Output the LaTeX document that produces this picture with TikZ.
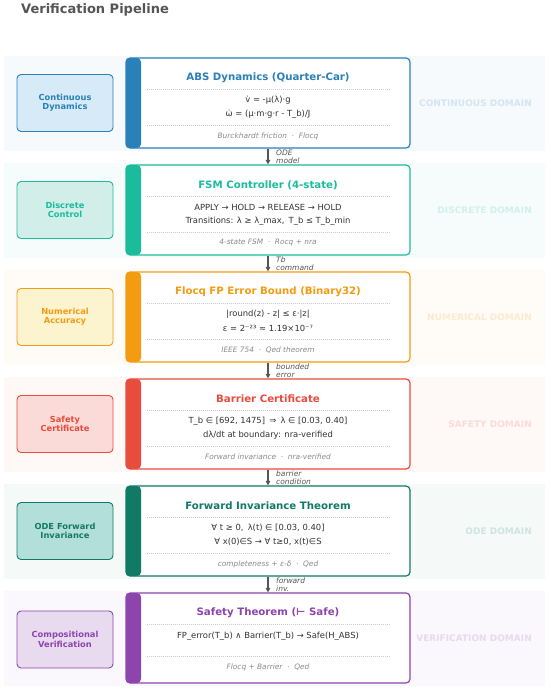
\documentclass[tikz,border=0pt]{standalone}
\usepackage{fontspec}
\setmainfont{DejaVu Sans}
\usetikzlibrary{arrows.meta,calc}
\definecolor{cA}{HTML}{2A80B9}\definecolor{fcA}{HTML}{D6EAF8}
\definecolor{cB}{HTML}{1ABC9C}\definecolor{fcB}{HTML}{D1EEE8}
\definecolor{cC}{HTML}{F39C12}\definecolor{fcC}{HTML}{FCF3CF}
\definecolor{cD}{HTML}{E74C3C}\definecolor{fcD}{HTML}{FADBD8}
\definecolor{cE}{HTML}{117A65}\definecolor{fcE}{HTML}{B3DFDA}
\definecolor{cF}{HTML}{8E44AD}\definecolor{fcF}{HTML}{E8DAEF}
\definecolor{txt}{HTML}{333333}
\definecolor{foot}{HTML}{8A8A8A}
\definecolor{ttl}{HTML}{555555}
\definecolor{sepc}{HTML}{CCCCCC}
\tikzset{
  band/.style={fill=#1!4, draw=none},
  lbl/.style={draw=#1, fill=f#1, line width=0.9pt, rounded corners=4pt, minimum width=96pt, minimum height=57pt, inner sep=0pt, align=center, text=#1, font=\fontsize{8.3}{9.4}\selectfont\bfseries},
  mainbox/.style={draw=#1, fill=white, line width=1.2pt, rounded corners=4pt, minimum width=284pt, minimum height=90pt, inner sep=0pt,
    path picture={\fill[#1] (path picture bounding box.north west) rectangle ([xshift=15pt]path picture bounding box.south west);}},
  btitle/.style={text=#1, font=\fontsize{10.2}{12}\selectfont\bfseries, inner sep=0pt},
  bline/.style={text=txt, font=\fontsize{8.4}{10}\selectfont, inner sep=0pt},
  bfoot/.style={text=foot, font=\fontsize{7.4}{9}\selectfont\itshape, inner sep=0pt},
  dom/.style={anchor=east, text=#1!20, font=\fontsize{9}{11}\selectfont\bfseries, inner sep=0pt},
  sep/.style={draw=sepc, line width=0.5pt, dash pattern=on 1pt off 1pt},
  flow/.style={draw=ttl, line width=1.4pt, -{Triangle[length=4.5pt,width=4.5pt]}},
  flowlbl/.style={anchor=west, text=ttl, align=left, font=\fontsize{7.5}{8.4}\selectfont\itshape, inner sep=0pt},
}
\begin{document}
\begin{tikzpicture}[x=1pt,y=-1pt]
\useasboundingbox (0,0) rectangle (550,691);
\fill[white] (0,0) rectangle (550,691);
\node[anchor=west, text=ttl, font=\fontsize{13}{15}\selectfont\bfseries, inner sep=0pt] (title) at (21,9.5) {Verification Pipeline};

% bands
\fill[band=cA] (4,56) rectangle (545,151);
\fill[band=cB] (4,163) rectangle (545,258);
\fill[band=cC] (4,270) rectangle (545,365);
\fill[band=cD] (4,377) rectangle (545,472);
\fill[band=cE] (4,484) rectangle (545,579);
\fill[band=cF] (4,591) rectangle (545,686);

% left labels
\node[lbl=cA] (l1) at (65,103) {Continuous\\Dynamics};
\node[lbl=cB] (l2) at (65,210) {Discrete\\Control};
\node[lbl=cC] (l3) at (65,317) {Numerical\\Accuracy};
\node[lbl=cD] (l4) at (65,424) {Safety\\Certificate};
\node[lbl=cE] (l5) at (65,531) {ODE Forward\\Invariance};
\node[lbl=cF] (l6) at (65,639.5) {Compositional\\Verification};

% domain labels
\node[dom=cA] (d1) at (532,103) {CONTINUOUS DOMAIN};
\node[dom=cB] (d2) at (532,210) {DISCRETE DOMAIN};
\node[dom=cC] (d3) at (532,317) {NUMERICAL DOMAIN};
\node[dom=cD] (d4) at (532,424) {SAFETY DOMAIN};
\node[dom=cE] (d5) at (532,531) {ODE DOMAIN};
\node[dom=cF] (d6) at (532,638) {VERIFICATION DOMAIN};

% main boxes
\node[mainbox=cA] (b1) at (268,103) {};
\node[mainbox=cB] (b2) at (268,210) {};
\node[mainbox=cC] (b3) at (268,317) {};
\node[mainbox=cD] (b4) at (268,424) {};
\node[mainbox=cE] (b5) at (268,531) {};
\node[mainbox=cF] (b6) at (268,638) {};

% box 1
\node[btitle=cA] (t1) at (268,78) {ABS Dynamics (Quarter-Car)};
\draw[sep] (147,89) -- (390,89);
\node[bline] (a1) at (268,100) {v̇ = -μ(λ)·g};
\node[bline] (a2) at (268,114) {ω̇ = (μ·m·g·r - T\_b)/J};
\draw[sep] (147,125) -- (390,125);
\node[bfoot] (f1) at (268,136) {Burckhardt friction\ \ ·\ \ Flocq};

% box 2
\node[btitle=cB] (t2) at (268,185) {FSM Controller (4-state)};
\draw[sep] (147,196) -- (390,196);
\node[bline] (c1) at (268,207) {APPLY → HOLD → RELEASE → HOLD};
\node[bline] (c2) at (268,221) {Transitions: λ ≥ λ\_max,\enspace T\_b ≤ T\_b\_min};
\draw[sep] (147,232) -- (390,232);
\node[bfoot] (f2) at (268,243) {4-state FSM\ \ ·\ \ Rocq + nra};

% box 3
\node[btitle=cC] (t3) at (268,292) {Flocq FP Error Bound (Binary32)};
\draw[sep] (147,303) -- (390,303);
\node[bline] (e1) at (268,314) {|round(z) - z| ≤ ε·|z|};
\node[bline] (e2) at (268,328) {ε = 2⁻²³ ≈ 1.19×10⁻⁷};
\draw[sep] (147,339) -- (390,339);
\node[bfoot] (f3) at (268,350) {IEEE 754\ \ ·\ \ Qed theorem};

% box 4
\node[btitle=cD] (t4) at (268,399) {Barrier Certificate};
\draw[sep] (147,410) -- (390,410);
\node[bline] (g1) at (268,421) {T\_b ∈ [692, 1475]\enspace ⇒\enspace λ ∈ [0.03, 0.40]};
\node[bline] (g2) at (268,435) {dλ/dt at boundary: nra-verified};
\draw[sep] (147,446) -- (390,446);
\node[bfoot] (f4) at (268,457) {Forward invariance\ \ ·\ \ nra-verified};

% box 5
\node[btitle=cE] (t5) at (268,506) {Forward Invariance Theorem};
\draw[sep] (147,517) -- (390,517);
\node[bline] (h1) at (268,528) {∀ t ≥ 0,\enspace λ(t) ∈ [0.03, 0.40]};
\node[bline] (h2) at (268,542) {∀ x(0)∈S → ∀ t≥0, x(t)∈S};
\draw[sep] (147,553) -- (390,553);
\node[bfoot] (f5) at (268,564) {completeness + ε-δ\ \ ·\ \ Qed};

% box 6
\node[btitle=cF] (t6) at (268,613) {Safety Theorem (⊢ Safe)};
\draw[sep] (147,624) -- (390,624);
\node[bline] (k1) at (268,636) {FP\_error(T\_b) ∧ Barrier(T\_b) → Safe(H\_ABS)};
\draw[sep] (147,656) -- (390,656);
\node[bfoot] (f6) at (268,667) {Flocq + Barrier\ \ ·\ \ Qed};

% flows
\draw[flow] (b1.south) -- (b2.north);
\draw[flow] (b2.south) -- (b3.north);
\draw[flow] (b3.south) -- (b4.north);
\draw[flow] (b4.south) -- (b5.north);
\draw[flow] (b5.south) -- (b6.north);
\node[flowlbl] (m1) at (276,156.5) {ODE\\model};
\node[flowlbl] (m2) at (276,263.5) {Tb\\command};
\node[flowlbl] (m3) at (276,370.5) {bounded\\error};
\node[flowlbl] (m4) at (276,477.5) {barrier\\condition};
\node[flowlbl] (m5) at (276,584.5) {forward\\inv.};
\end{tikzpicture}
\end{document}
